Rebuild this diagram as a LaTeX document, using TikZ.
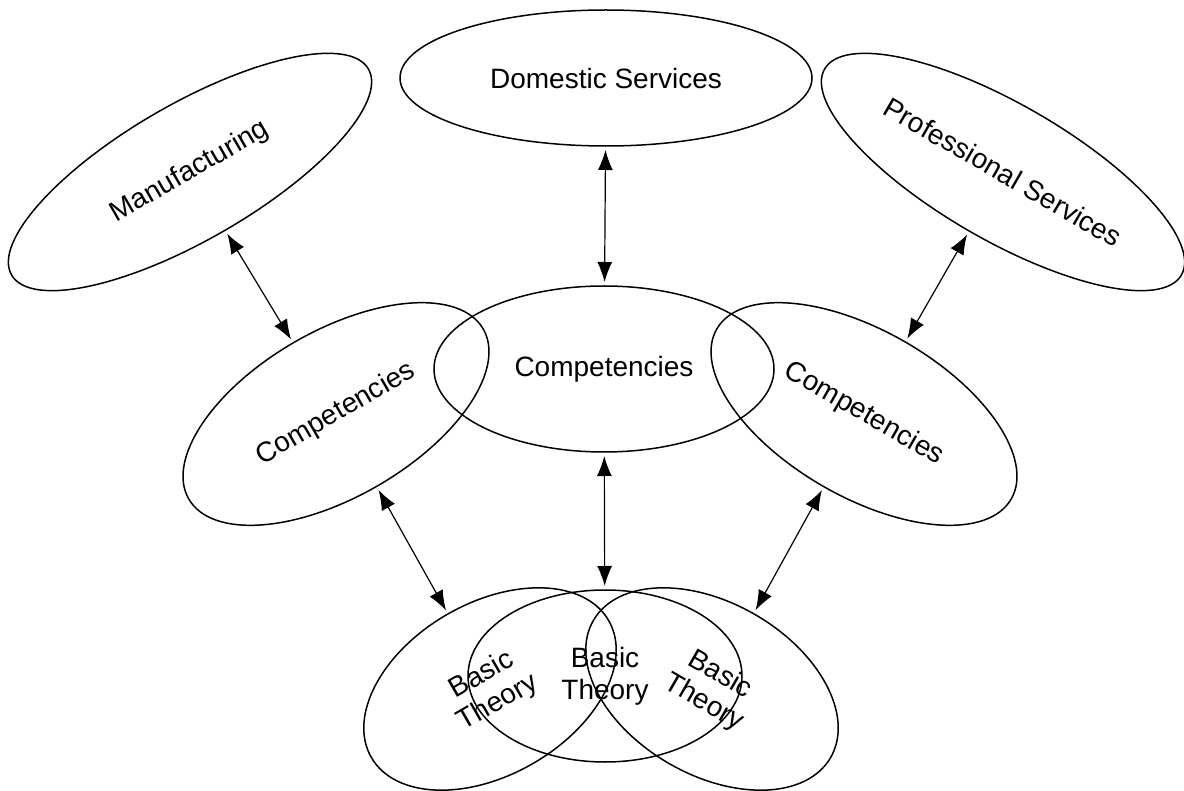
\documentclass[tikz,border=0pt]{standalone}
\usepackage{fontspec}
\setmainfont{Liberation Sans}
\usetikzlibrary{shapes.geometric,arrows.meta}
\tikzset{
  blob/.style={ellipse, draw, line width=1.5pt, inner sep=0pt, outer sep=4pt,
    font=\fontsize{28}{32}\selectfont, align=center},
  wide/.style={blob, minimum width=412pt, minimum height=136pt},
  comp/.style={blob, minimum width=340pt, minimum height=166pt},
  theory/.style={blob, minimum width=274pt, minimum height=172pt},
  link/.style={line width=1.2pt, {Latex[length=20pt,width=15pt]}-{Latex[length=20pt,width=15pt]}}
}
\begin{document}
\begin{tikzpicture}[x=1pt,y=-1pt]
\useasboundingbox (0,0) rectangle (1184,791);
\node[wide] (dom) at (606,78) {Domestic Services};
\node[wide, rotate=30] (man) at (190,172) {Manufacturing};
\node[wide, rotate=-30] (pro) at (1003,172) {Professional Services};
\node[comp] (cc) at (604,369) {Competencies};
\node[comp, rotate=30] (cl) at (336,414) {Competencies};
\node[comp, rotate=-30] (cr) at (864,414) {Competencies};
\node[theory] (tc) at (605,676) {Basic\\Theory};
\node[theory, rotate=30] (tl) at (490,689) {Basic\\Theory};
\node[theory, rotate=-30] (tr) at (712,689) {Basic\\Theory};
\draw[link] (dom) -- (cc);
\draw[link] (man) -- (cl);
\draw[link] (pro) -- (cr);
\draw[link] (cc) -- (tc);
\draw[link] (cl) -- (tl);
\draw[link] (cr) -- (tr);
\end{tikzpicture}
\end{document}
